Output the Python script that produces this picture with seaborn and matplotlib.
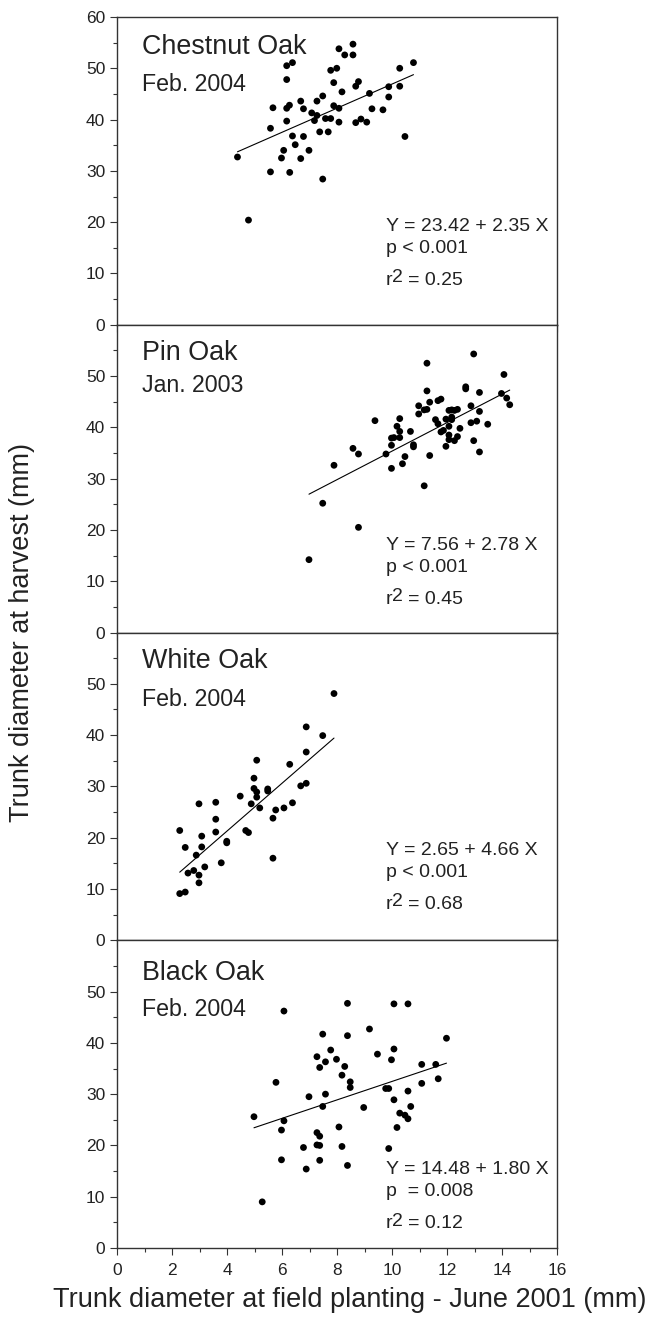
import numpy as np
import pandas as pd
import seaborn as sns
import matplotlib.pyplot as plt
from matplotlib.ticker import MultipleLocator

# Chestnut Oak, Feb. 2004
chestnut_x = [4.38, 4.78, 5.58, 5.67, 5.58, 5.98, 6.06, 6.17, 6.17, 6.27, 6.17, 6.17, 6.38, 6.28,
              6.38, 6.48, 6.68, 6.68, 6.78, 6.78, 6.98, 7.08, 7.18, 7.27, 7.27, 7.37, 7.48, 7.48,
              7.58, 7.68, 7.77, 7.77, 7.88, 7.88, 7.99, 8.07, 8.07, 8.07, 8.18, 8.28, 8.58, 8.58,
              8.68, 8.78, 8.68, 8.87, 9.08, 9.18, 9.27, 9.67, 9.88, 9.88, 10.28, 10.28, 10.47, 10.78]
chestnut_y = [32.7, 20.4, 38.3, 42.3, 29.8, 32.5, 34.0, 39.7, 42.2, 42.8, 47.8, 50.5, 51.1, 29.7,
              36.8, 35.1, 32.4, 43.6, 42.1, 36.7, 34.0, 41.3, 39.8, 40.8, 43.6, 37.6, 44.6, 28.4,
              40.2, 37.6, 40.2, 49.6, 47.2, 42.7, 50.0, 53.8, 42.2, 39.5, 45.4, 52.6, 54.7, 52.6,
              46.5, 47.4, 39.4, 40.1, 39.5, 45.1, 42.1, 41.9, 46.4, 44.4, 50.0, 46.5, 36.7, 51.1]

# Pin Oak, Jan. 2003
pin_x = [6.98, 7.48, 7.89, 8.78, 8.58, 8.78, 9.38, 9.78, 9.98, 9.98, 9.98, 10.07, 10.18, 10.28,
         10.28, 10.28, 10.38, 10.47, 10.67, 10.78, 10.78, 10.97, 10.97, 11.17, 11.17, 11.27,
         11.27, 11.27, 11.37, 11.37, 11.58, 11.67, 11.78, 11.67, 11.78, 11.96, 11.96, 12.07,
         12.07, 12.07, 12.07, 12.17, 12.17, 12.27, 12.38, 12.27, 12.38, 12.47, 12.68, 12.68,
         12.87, 12.87, 12.97, 12.97, 13.08, 13.18, 13.18, 13.18, 13.48, 13.98, 14.07, 14.17,
         14.28, 12.17, 11.87]
pin_y = [14.2, 25.2, 32.6, 20.5, 35.9, 34.8, 41.3, 34.8, 32.0, 36.5, 37.9, 38.0, 40.2, 41.7,
         39.2, 38.0, 32.9, 34.3, 39.2, 36.6, 36.2, 44.2, 42.6, 43.4, 28.6, 52.5, 47.1, 43.5,
         44.9, 34.5, 41.5, 45.2, 45.5, 40.7, 39.1, 41.6, 36.3, 43.3, 40.2, 38.5, 37.6, 42.0,
         43.4, 43.3, 43.5, 37.4, 38.2, 39.8, 47.9, 47.5, 44.2, 40.9, 54.3, 37.4, 41.2, 46.8,
         43.1, 35.2, 40.6, 46.6, 50.3, 45.7, 44.4, 41.5, 39.4]

# White Oak, Feb. 2004
white_x = [2.28, 2.48, 2.28, 2.48, 2.58, 2.79, 2.88, 2.98, 2.98, 2.98, 3.08, 3.08, 3.19, 3.59,
           3.59, 3.59, 3.79, 3.99, 3.99, 4.48, 4.68, 4.78, 4.88, 4.98, 4.98, 5.08, 5.08, 5.08,
           5.19, 5.48, 5.48, 5.67, 5.67, 5.77, 6.07, 6.28, 6.38, 6.68, 6.88, 6.88, 6.88, 7.48, 7.89]
white_y = [9.1, 9.4, 21.4, 18.1, 13.1, 13.6, 16.6, 26.6, 12.7, 11.2, 20.3, 18.2, 14.3, 26.9,
           23.6, 21.1, 15.1, 19.3, 19.0, 28.1, 21.4, 21.0, 26.6, 31.6, 29.6, 35.1, 28.9, 27.9,
           25.8, 29.5, 29.1, 23.8, 16.0, 25.4, 25.8, 34.3, 26.8, 30.1, 41.6, 36.7, 30.6, 39.9, 48.1]

# Black Oak, Feb. 2004
black_x = [4.98, 5.28, 5.78, 5.98, 6.07, 5.98, 6.07, 6.78, 6.88, 6.98, 7.27, 7.27, 7.37, 7.27,
           7.37, 7.37, 7.37, 7.48, 7.48, 7.58, 7.58, 7.77, 7.98, 8.07, 8.18, 8.18, 8.28, 8.38,
           8.38, 8.38, 8.48, 8.48, 8.97, 9.18, 9.47, 9.77, 9.88, 9.88, 9.98, 10.07, 10.07, 10.07,
           10.18, 10.28, 10.47, 10.58, 10.58, 10.58, 10.68, 11.08, 11.08, 11.59, 11.68, 11.98]
black_y = [25.6, 9.0, 32.3, 23.0, 24.8, 17.2, 46.2, 19.6, 15.4, 29.5, 37.3, 22.5, 21.8, 20.1,
           20.0, 17.1, 35.2, 41.7, 27.6, 36.3, 30.0, 38.6, 36.8, 23.6, 33.7, 19.8, 35.4, 47.7,
           41.4, 16.1, 32.4, 31.3, 27.4, 42.7, 37.8, 31.1, 31.1, 19.4, 36.7, 47.6, 38.8, 28.9,
           23.5, 26.3, 25.9, 47.6, 30.6, 25.2, 27.6, 35.8, 32.1, 35.8, 33.0, 40.9]

species = ["Chestnut Oak", "Pin Oak", "White Oak", "Black Oak"]
dates = ["Feb. 2004", "Jan. 2003", "Feb. 2004", "Feb. 2004"]
intercepts = [23.42, 7.56, 2.65, 14.48]
slopes = [2.35, 2.78, 4.66, 1.80]
p_texts = ["p < 0.001", "p < 0.001", "p < 0.001", "p  = 0.008"]
r2_values = ["0.25", "0.45", "0.68", "0.12"]
xs = [chestnut_x, pin_x, white_x, black_x]
ys = [chestnut_y, pin_y, white_y, black_y]

sns.set_style("ticks")
plt.rcParams['font.family'] = ['Liberation Sans', 'DejaVu Sans']
plt.rcParams['axes.edgecolor'] = '#333333'
plt.rcParams['text.color'] = '#222222'

fig, axes = plt.subplots(4, 1, figsize=(6.48, 13.26), dpi=100, sharex=True)
fig.subplots_adjust(left=0.1806, right=0.8596, top=0.9872, bottom=0.0588, hspace=0)

# label positions differ a bit between panels
title_y = [0.88, 0.885, 0.886, 0.871]
date_y = [0.76, 0.78, 0.761, 0.754]
eq_y = [0.305, 0.268, 0.277, 0.24]
eq_fs = 14

for i, ax in enumerate(axes):
    df = pd.DataFrame({'x': xs[i], 'y': ys[i]})
    sns.scatterplot(data=df, x='x', y='y', ax=ax, color='black', s=24,
                    edgecolor='none', linewidth=0)
    xl = np.array([min(xs[i]), max(xs[i])])
    fit = pd.DataFrame({'x': xl, 'y': intercepts[i] + slopes[i] * xl})
    sns.lineplot(data=fit, x='x', y='y', ax=ax, color='black', linewidth=0.8)

    ax.set_xlim(0, 16)
    ax.set_ylim(0, 60)
    ax.xaxis.set_major_locator(MultipleLocator(2))
    ax.xaxis.set_minor_locator(MultipleLocator(1))
    if i == 0:
        ax.set_yticks(range(0, 61, 10))
    else:
        ax.set_yticks(range(0, 51, 10))
    ax.set_yticks(range(5, 60, 10), minor=True)
    ax.tick_params(axis='both', which='major', direction='out', length=5, width=0.8,
                   labelsize=12.5, colors='#333333', labelcolor='#222222')
    ax.tick_params(axis='x', which='major', pad=6)
    ax.tick_params(axis='both', which='minor', direction='out', length=3, width=0.8,
                   colors='#333333')
    ax.set_xlabel('')
    ax.set_ylabel('')
    for sp in ax.spines.values():
        sp.set_linewidth(1.0)

    ax.text(0.057, title_y[i], species[i], transform=ax.transAxes, fontsize=19.4)
    ax.text(0.057, date_y[i], dates[i], transform=ax.transAxes, fontsize=16.7)
    eq = f"Y = {intercepts[i]:.2f} + {slopes[i]:.2f} X"
    ax.text(0.611, eq_y[i], eq, transform=ax.transAxes, fontsize=eq_fs)
    ax.text(0.611, eq_y[i] - 0.071, p_texts[i], transform=ax.transAxes, fontsize=eq_fs)
    # r squared: full size "2" slightly raised, as in the original
    ry = eq_y[i] - 0.176
    ax.text(0.611, ry, "r", transform=ax.transAxes, fontsize=eq_fs)
    ax.annotate("2", xy=(0.611, ry), xycoords='axes fraction', xytext=(4.1, 2.0),
                textcoords='offset points', fontsize=eq_fs)
    ax.annotate("= " + r2_values[i], xy=(0.611, ry), xycoords='axes fraction',
                xytext=(15.6, 0), textcoords='offset points', fontsize=eq_fs)

fig.text(0.034, 0.523, 'Trunk diameter at harvest (mm)', rotation=90,
         ha='center', va='center', fontsize=19.5)
fig.text(0.539, 0.0196, 'Trunk diameter at field planting - June 2001 (mm)',
         ha='center', va='center', fontsize=19.5)

fig.savefig('out.png', dpi=100)
